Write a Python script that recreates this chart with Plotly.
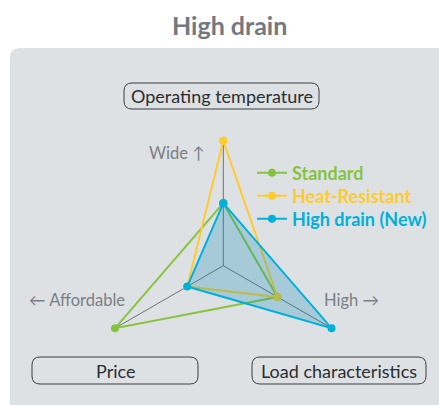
import plotly.graph_objects as go

W, H = 439, 405

categories = ["Operating temperature", "Load characteristics", "Price"]
series_names = ["Standard", "Heat-Resistant", "High drain (New)"]
standard = [1.5, 1.5, 3.0]
heat_resistant = [3.0, 1.5, 1.0]
high_drain = [1.5, 3.0, 1.0]
colors = ["#86c440", "#fdcb2e", "#00b0da"]

title_text = "High drain"
direction_labels = ["Wide ↑", "← Affordable", "High →"]

FONT = "Lato, sans-serif"


def fx(x):
    return x / W


def fy(y):
    return 1 - y / H


def rounded_rect(x0, y0, x1, y1, r):
    pts = [
        f"M {fx(x0 + r)},{fy(y0)}",
        f"L {fx(x1 - r)},{fy(y0)}",
        f"Q {fx(x1)},{fy(y0)} {fx(x1)},{fy(y0 + r)}",
        f"L {fx(x1)},{fy(y1 - r)}",
        f"Q {fx(x1)},{fy(y1)} {fx(x1 - r)},{fy(y1)}",
        f"L {fx(x0 + r)},{fy(y1)}",
        f"Q {fx(x0)},{fy(y1)} {fx(x0)},{fy(y1 - r)}",
        f"L {fx(x0)},{fy(y0 + r)}",
        f"Q {fx(x0)},{fy(y0)} {fx(x0 + r)},{fy(y0)}",
        "Z",
    ]
    return " ".join(pts)


fig = go.Figure()

legend_ids = ["legend", "legend2", "legend3"]
all_values = [standard, heat_resistant, high_drain]

for i, (name, vals, col, lg) in enumerate(zip(series_names, all_values, colors, legend_ids)):
    if i == 2:
        # translucent fill for the new High drain series, drawn over the older series
        fig.add_trace(go.Scatterpolar(
            r=vals + vals[:1],
            theta=categories + categories[:1],
            mode="lines",
            line=dict(width=0, color=col),
            fill="toself",
            fillcolor="rgba(0,135,175,0.25)",
            showlegend=False,
            hoverinfo="skip",
        ))
    fig.add_trace(go.Scatterpolar(
        r=vals + vals[:1],
        theta=categories + categories[:1],
        mode="lines+markers",
        name=f"<span style='color:{col}'><b>{name}</b></span>",
        line=dict(color=col, width=2),
        marker=dict(color=col, size=8),
        legend=lg,
        hoverinfo="skip",
    ))

cx, cy, R = 223.3, 265.7, 125

legend_rows = [173, 196, 219]


def legend_box(row_y):
    return dict(
        x=fx(252), y=fy(row_y), xanchor="left", yanchor="middle",
        bgcolor="rgba(0,0,0,0)",
        font=dict(size=18, family=FONT),
        itemwidth=30,
    )


fig.update_layout(
    width=W, height=H,
    margin=dict(l=0, r=0, t=0, b=0),
    paper_bgcolor="white",
    font=dict(family=FONT, color="#333"),
    polar=dict(
        domain=dict(x=[fx(cx - R), fx(cx + R)], y=[fy(cy + R), fy(cy - R)]),
        bgcolor="rgba(0,0,0,0)",
        radialaxis=dict(visible=False, range=[0, 3], showgrid=False),
        angularaxis=dict(
            type="category",
            categoryarray=categories,
            rotation=90,
            direction="clockwise",
            showticklabels=False,
            ticks="",
            showline=False,
            showgrid=True,
            gridcolor="#6d7278",
            gridwidth=1,
        ),
        gridshape="linear",
    ),
    showlegend=True,
    legend=legend_box(legend_rows[0]),
    legend2=legend_box(legend_rows[1]),
    legend3=legend_box(legend_rows[2]),
)

shapes = [
    dict(type="path", path=rounded_rect(10, 48, 460, 430, 10), xref="paper", yref="paper",
         fillcolor="#dee1e4", line=dict(width=0), layer="below"),
]
boxes = [
    (124, 83, 319, 109, "Operating temperature"),
    (32, 357, 198, 384, "Price"),
    (252, 357, 426, 384, "Load characteristics"),
]
annotations = []
for x0, y0, x1, y1, txt in boxes:
    shapes.append(dict(type="path", path=rounded_rect(x0, y0, x1, y1, 8), xref="paper", yref="paper",
                       fillcolor="rgba(0,0,0,0)", line=dict(color="#3a3d40", width=1), layer="above"))
    annotations.append(dict(x=fx((x0 + x1) / 2), y=fy((y0 + y1) / 2), xref="paper", yref="paper",
                            text=txt, showarrow=False, xanchor="center", yanchor="middle",
                            font=dict(size=18, color="#2b2e31", family=FONT)))

annotations.append(dict(x=fx(229), y=fy(25), xref="paper", yref="paper", text=f"<b>{title_text}</b>",
                        showarrow=False, xanchor="center", yanchor="middle",
                        font=dict(size=25, color="#737980", family=FONT)))

for (x, y, anchor), txt in zip([(207, 153, "right"), (27, 300, "left"), (322, 300, "left")], direction_labels):
    annotations.append(dict(x=fx(x), y=fy(y), xref="paper", yref="paper", text=txt,
                            showarrow=False, xanchor=anchor, yanchor="middle",
                            font=dict(size=16.5, color="#7a7f84", family=FONT)))

fig.update_layout(shapes=shapes, annotations=annotations)

fig.write_html(
    "out.html",
    config={"displayModeBar": False},
    post_script="document.body.style.margin='0';document.body.style.overflow='hidden';",
)
